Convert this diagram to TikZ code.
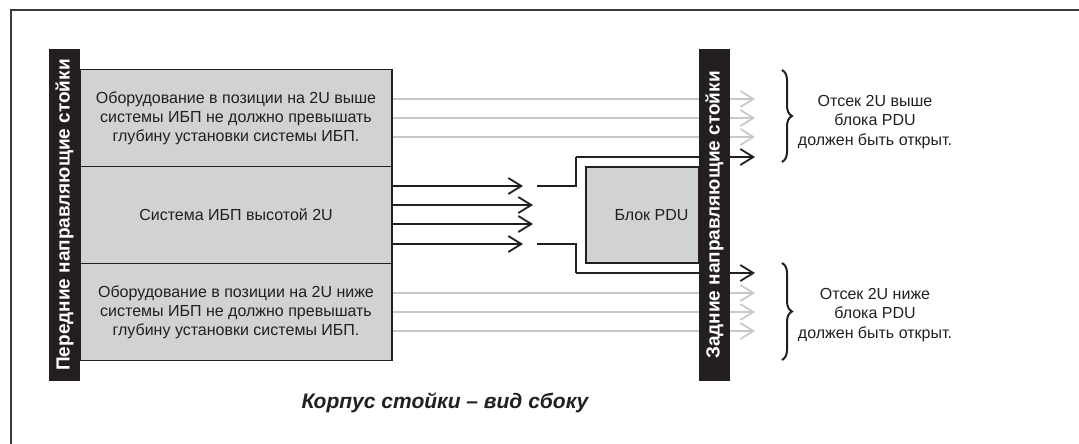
\documentclass[tikz,border=0pt]{standalone}
\usepackage{fontspec}
\setmainfont{Liberation Sans}
\usetikzlibrary{arrows.meta,decorations.pathreplacing}
\definecolor{boxgray}{HTML}{D1D2D4}
\definecolor{lightline}{HTML}{C8C8C8}
\definecolor{ink}{HTML}{231F20}
\definecolor{framecol}{HTML}{3A3A3A}
\tikzset{
  eqbox/.style={draw=ink, line width=1.8pt, fill=boxgray, minimum width=312pt, minimum height=97pt, inner sep=0pt, align=center, font=\fontsize{16}{19}\selectfont, text=ink},
  rail/.style={fill=ink, minimum width=332pt, minimum height=31pt, inner sep=0pt, text=white, font=\bfseries\fontsize{19}{20}\selectfont, rotate=90},
  grayarrow/.style={draw=lightline, line width=2pt, -{Straight Barb[length=13pt,width=16pt,line width=1.7pt]}},
  blackarrow/.style={draw=ink, line width=2pt, -{Straight Barb[length=13pt,width=16pt,line width=1.8pt]}},
  blackline/.style={draw=ink, line width=2pt},
  bracestyle/.style={draw=ink, line width=2pt, decorate, decoration={brace, amplitude=10pt}},
  note/.style={align=center, font=\fontsize{16}{19.5}\selectfont, text=ink},
}
\begin{document}
\begin{tikzpicture}[x=1pt,y=-1pt]
\useasboundingbox (0,0) rectangle (1079,444);
% frame
\draw[framecol, line width=2pt] (11,444) coordinate (fbl) -- (11,10) coordinate (ftl) -- (1079,10) coordinate (ftr);
% boxes
\node[eqbox] (top) at (236,118) {Оборудование в позиции на 2U выше\\системы ИБП не должно превышать\\глубину установки системы ИБП.};
\node[eqbox] (mid) at (236,215) {Система ИБП высотой 2U};
\node[eqbox] (bot) at (236,312) {Оборудование в позиции на 2U ниже\\системы ИБП не должно превышать\\глубину установки системы ИБП.};
% front rail
\node[rail] (front) at (64.5,215) {Передние направляющие стойки};
% gray arrows
\foreach \y/\n in {99/a1,118/a2,137/a3,293/b1,312/b2,331/b3}{
  \coordinate (\n) at (755,\y);
}
\foreach \n/\b in {a1/top,a2/top,a3/top,b1/bot,b2/bot,b3/bot}{
  \draw[grayarrow] (\b.east |- \n) -- (\n);
}
% black arrows from UPS
\coordinate (m1) at (523,186);
\coordinate (m2) at (533,205);
\coordinate (m3) at (533,224);
\coordinate (m4) at (523,244);
\foreach \n in {m1,m2,m3,m4}{
  \draw[blackarrow] (mid.east |- \n) -- (\n);
}
% PDU
\node[draw=ink, line width=1.8pt, fill=boxgray, minimum width=113pt, minimum height=96pt, inner sep=0pt, font=\fontsize{16}{18}\selectfont, text=ink] (pdu) at (642.5,215) {\hspace*{18pt}Блок PDU};
% airflow around PDU
\coordinate (u0) at (537,186);
\coordinate (u1) at (576,157);
\coordinate (ue) at (755,157);
\coordinate (l0) at (537,244);
\coordinate (l1) at (576,273);
\coordinate (le) at (755,273);
\draw[blackline] (u0) -- (u0 -| u1) -- (u1);
\draw[blackarrow] (u1) -- (ue);
\draw[blackline] (l0) -- (l0 -| l1) -- (l1);
\draw[blackarrow] (l1) -- (le);
% rear rail
\node[rail] (rear) at (714.5,215) {Задние направляющие стойки};
% braces
\coordinate (bu1) at (782,70);
\coordinate (bu2) at (782,162);
\coordinate (bl1) at (782,263);
\coordinate (bl2) at (782,360);
\draw[bracestyle] (bu1) -- (bu2);
\draw[bracestyle] (bl1) -- (bl2);
\node[note] (nu) at (875,122) {Отсек 2U выше\\блока PDU\\должен быть открыт.};
\node[note] (nl) at (875,315) {Отсек 2U ниже\\блока PDU\\должен быть открыт.};
% caption
\node[font=\bfseries\itshape\fontsize{21}{24}\selectfont, text=ink] (cap) at (445,403) {Корпус стойки – вид сбоку};
\end{tikzpicture}
\end{document}
